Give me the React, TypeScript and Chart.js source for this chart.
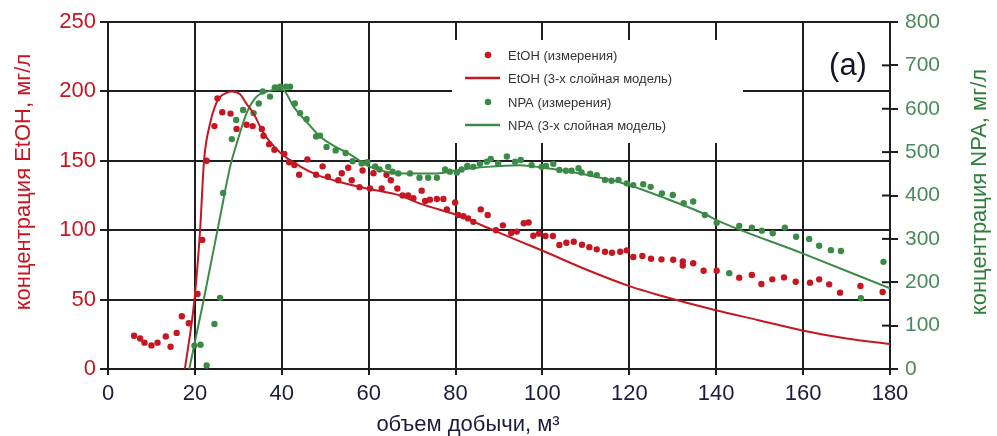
import React, { useEffect, useRef } from 'react';
import { Chart, registerables } from 'chart.js';

Chart.register(...registerables);

// ---- Data ----
const etohMeasX = [6.0, 7.4, 8.4, 10.0, 11.4, 13.3, 14.4, 15.8, 17.0, 18.6, 20.6, 21.7, 22.7, 24.5, 25.2, 26.3, 28.2, 29.6, 31.9, 33.3, 35.4, 35.8, 37.1, 38.3, 40.6, 41.7, 42.9, 44.0, 45.9, 47.9, 49.4, 50.6, 53.0, 53.8, 55.3, 56.1, 57.9, 58.6, 60.3, 61.1, 63.0, 64.1, 65.1, 66.6, 67.8, 69.1, 70.3, 72.2, 73.0, 74.1, 75.7, 77.2, 78.0, 79.9, 80.6, 81.8, 82.9, 84.1, 85.8, 87.4, 89.3, 90.9, 92.8, 94.1, 95.7, 96.8, 97.9, 99.2, 100.7, 102.4, 103.9, 105.5, 107.2, 109.1, 110.8, 112.5, 114.4, 116.0, 117.9, 119.4, 120.9, 123.0, 125.0, 127.4, 130.1, 132.3, 132.3, 134.7, 137.1, 140.1, 145.3, 148.2, 150.4, 152.9, 155.6, 158.3, 161.6, 163.7, 166.0, 168.5, 173.2, 178.3];
const etohMeasY = [24, 22, 19, 17, 19, 23.5, 16, 26, 38, 33, 54, 93, 150, 175, 195, 185, 184, 173, 176, 175, 173, 168, 162, 158, 155, 149, 147, 140, 151, 140, 146, 138.5, 136, 141, 145, 136, 131, 143, 130, 141, 130, 140, 136, 130, 125, 125, 123, 128.5, 121, 122, 122.5, 122.5, 115, 120, 111, 110, 108.5, 106, 115, 111, 100, 103.5, 98, 99, 105, 105.5, 96, 97.5, 95.8, 95.8, 89.3, 91, 91.7, 89.5, 87.8, 86.2, 84.5, 83.8, 84.5, 85.5, 80.7, 81.4, 79.4, 79, 78.7, 77.5, 74.6, 76.2, 70.8, 70.8, 65.8, 67.7, 61.2, 64.6, 66, 62.9, 62.2, 64.6, 61, 55, 59.8, 55.5];

const etohModelX = [17.7, 19.9, 21.2, 22.1, 23.5, 24.6, 25.8, 27.3, 28.5, 30.4, 31.9, 33.5, 35.8, 39.6, 44.2, 48.0, 51.9, 59.6, 67.2, 72.0, 80.3, 88.7, 94.8, 100.2, 110.2, 120.2, 127.1, 139.7, 150.0, 160.1, 170.0, 180.0];
const etohModelY = [0, 50, 100, 150, 177, 189, 196, 199, 200, 198, 191, 184, 170, 156, 146, 140, 136, 130, 125, 119, 111, 100, 92, 85, 71.5, 59.5, 53, 42.5, 35, 27.6, 22, 18];

const npaMeasX = [19.9, 21.3, 22.7, 24.5, 25.8, 26.5, 28.5, 29.5, 31.1, 33.5, 34.7, 35.6, 37.3, 38.4, 39.6, 41.0, 41.9, 43.0, 44.2, 45.7, 47.9, 48.8, 50.3, 52.4, 54.7, 56.3, 58.4, 59.7, 61.5, 62.5, 64.5, 65.5, 66.8, 69.5, 71.7, 73.7, 75.7, 77.6, 78.7, 80.3, 81.4, 82.7, 84.1, 85.6, 87.2, 88.1, 89.8, 91.8, 93.7, 95.0, 97.5, 99.8, 100.8, 102.5, 103.9, 105.4, 106.7, 108.3, 109.0, 111.0, 112.5, 114.4, 115.9, 117.5, 119.4, 120.9, 123.2, 124.9, 127.5, 130.0, 132.5, 134.7, 137.4, 140.1, 143.0, 145.3, 148.2, 150.5, 153.0, 155.8, 158.4, 161.4, 163.7, 166.4, 168.7, 173.3, 178.5];
const npaMeasY = [54, 56, 8, 104, 164, 406, 530, 574, 597, 590, 612, 640, 628, 649, 651, 651, 651, 612, 590, 576, 536, 538, 512, 504, 498, 479, 474, 477, 467, 460, 466, 455, 451, 451, 441, 441, 441, 460, 455, 453, 460, 468, 466, 473, 478, 484, 474, 490, 478, 482, 470, 466, 468, 473, 459, 457, 457, 463, 453, 450, 447, 436, 434, 436, 428, 424, 426, 420, 405, 401, 382, 386, 355, 337, 221, 330, 326, 319, 313, 326, 305, 300, 284, 274, 272, 163, 247];

const npaModelX = [18.7, 22.1, 26.1, 28.1, 30.0, 31.9, 34.2, 36.5, 38.5, 40.2, 42.7, 45.7, 48.8, 51.9, 55.7, 60.3, 68.0, 75.7, 80.3, 87.2, 94.8, 100.2, 108.0, 115.6, 120.2, 127.1, 137.8, 139.7, 160.0, 180.0];
const npaModelY = [0, 163, 366, 466, 532, 590, 628, 639, 644, 644, 605, 570, 536, 515, 495, 466, 451, 451, 458, 466, 470, 464, 452, 436, 423, 398, 355, 345, 266, 186];

const xTickValues = [0, 20, 40, 60, 80, 100, 120, 140, 160, 180];
const legendLabels = ['EtOH (измерения)', 'EtOH (3-х слойная модель)', 'NPA (измерения)', 'NPA (3-х слойная модель)'];
const xTitle = 'объем добычи, м³';
const yTitle = 'концентрация EtOH, мг/л';
const y1Title = 'концентрация NPA, мг/л';
const panelLabel = '(a)';

const RED = '#c51722';
const GREEN = '#3b8a48';
const FONT = '"Liberation Sans", Arial, Helvetica, sans-serif';

const pts = (xs: number[], ys: number[]) => xs.map((x, i) => ({ x, y: ys[i] }));

const overlayPlugin = {
  id: 'overlay',
  afterDraw(chart: any) {
    const { ctx, chartArea, scales } = chart;
    const y1 = scales.y1;
    ctx.save();
    // inner half of right-axis tick marks
    ctx.strokeStyle = '#1a1a1a';
    ctx.lineWidth = 2;
    y1.ticks.forEach((t: any) => {
      const py = y1.getPixelForValue(t.value);
      ctx.beginPath();
      ctx.moveTo(chartArea.right - 8, py);
      ctx.lineTo(chartArea.right, py);
      ctx.stroke();
    });

    // legend box
    ctx.fillStyle = '#ffffff';
    ctx.fillRect(452, 40, 291, 103);
    const rows = [55, 78, 102, 125];
    const colors = [RED, RED, GREEN, GREEN];
    ctx.font = `13px ${FONT}`;
    ctx.textBaseline = 'middle';
    ctx.textAlign = 'left';
    rows.forEach((ry, i) => {
      ctx.fillStyle = colors[i];
      ctx.strokeStyle = colors[i];
      if (i % 2 === 0) {
        ctx.beginPath();
        ctx.arc(488, ry, 3.3, 0, Math.PI * 2);
        ctx.fill();
      } else {
        ctx.lineWidth = 2.5;
        ctx.beginPath();
        ctx.moveTo(465, ry);
        ctx.lineTo(500, ry);
        ctx.stroke();
      }
      ctx.fillStyle = '#333333';
      ctx.fillText(legendLabels[i], 508, ry + 1);
    });

    // panel label
    ctx.fillStyle = '#141428';
    ctx.font = `31px ${FONT}`;
    ctx.textAlign = 'center';
    ctx.fillText(panelLabel, 848, 66);

    // axis titles
    ctx.font = `22px ${FONT}`;
    ctx.fillStyle = '#1c1c3c';
    ctx.fillText(xTitle, 468, 425);

    ctx.save();
    ctx.translate(24, 182);
    ctx.rotate(-Math.PI / 2);
    ctx.fillStyle = RED;
    ctx.fillText(yTitle, 0, 0);
    ctx.restore();

    ctx.save();
    ctx.translate(980, 192);
    ctx.rotate(-Math.PI / 2);
    ctx.fillStyle = '#2f7e3c';
    ctx.fillText(y1Title, 0, 0);
    ctx.restore();

    ctx.restore();
  },
};

export default function App() {
  const ref = useRef<HTMLCanvasElement | null>(null);

  useEffect(() => {
    document.body.style.margin = '0';
    const canvas = ref.current;
    if (!canvas) return;
    const gridCommon = { color: '#1e1e1e', lineWidth: 2 };
    const chart = new Chart(canvas, {
      type: 'scatter',
      data: {
        datasets: [
          {
            label: legendLabels[1],
            data: pts(etohModelX, etohModelY),
            showLine: true,
            borderColor: RED,
            borderWidth: 2,
            pointRadius: 0,
            cubicInterpolationMode: 'monotone',
            yAxisID: 'y',
          },
          {
            label: legendLabels[3],
            data: pts(npaModelX, npaModelY),
            showLine: true,
            borderColor: GREEN,
            borderWidth: 2,
            pointRadius: 0,
            cubicInterpolationMode: 'monotone',
            yAxisID: 'y1',
          },
          {
            label: legendLabels[0],
            data: pts(etohMeasX, etohMeasY),
            backgroundColor: RED,
            borderWidth: 0,
            pointRadius: 3.2,
            yAxisID: 'y',
          },
          {
            label: legendLabels[2],
            data: pts(npaMeasX, npaMeasY),
            backgroundColor: GREEN,
            borderWidth: 0,
            pointRadius: 3.2,
            yAxisID: 'y1',
          },
        ],
      } as any,
      options: {
        responsive: false,
        animation: false,
        layout: { padding: { top: 22, left: 0, right: 0, bottom: 0 } },
        plugins: { legend: { display: false }, tooltip: { enabled: false } },
        scales: {
          x: {
            type: 'linear',
            min: 0,
            max: 180,
            afterBuildTicks: (s: any) => {
              s.ticks = xTickValues.map((v) => ({ value: v }));
            },
            afterFit: (s: any) => {
              s.height = 67;
            },
            ticks: { color: '#1c1c3c', font: { family: FONT, size: 22 }, padding: 6, maxRotation: 0 },
            grid: { ...gridCommon, tickLength: 6 },
            border: { display: true, color: '#1e1e1e', width: 2 },
          },
          y: {
            type: 'linear',
            position: 'left',
            min: 0,
            max: 250,
            ticks: { stepSize: 50, color: RED, font: { family: FONT, size: 22 }, padding: 4 },
            afterFit: (s: any) => {
              s.width = 108;
            },
            grid: { ...gridCommon, tickLength: 8 },
            border: { display: true, color: '#1e1e1e', width: 2 },
          },
          y1: {
            type: 'linear',
            position: 'right',
            min: 0,
            max: 800,
            ticks: { stepSize: 100, color: '#4a8a5a', font: { family: FONT, size: 21 }, padding: 7 },
            afterFit: (s: any) => {
              s.width = 107;
            },
            grid: { ...gridCommon, drawOnChartArea: false, tickLength: 8 },
            border: { display: true, color: '#1e1e1e', width: 2 },
          },
        },
      } as any,
      plugins: [overlayPlugin],
    });
    return () => chart.destroy();
  }, []);

  return <canvas ref={ref} width={997} height={436} style={{ display: 'block' }} />;
}
